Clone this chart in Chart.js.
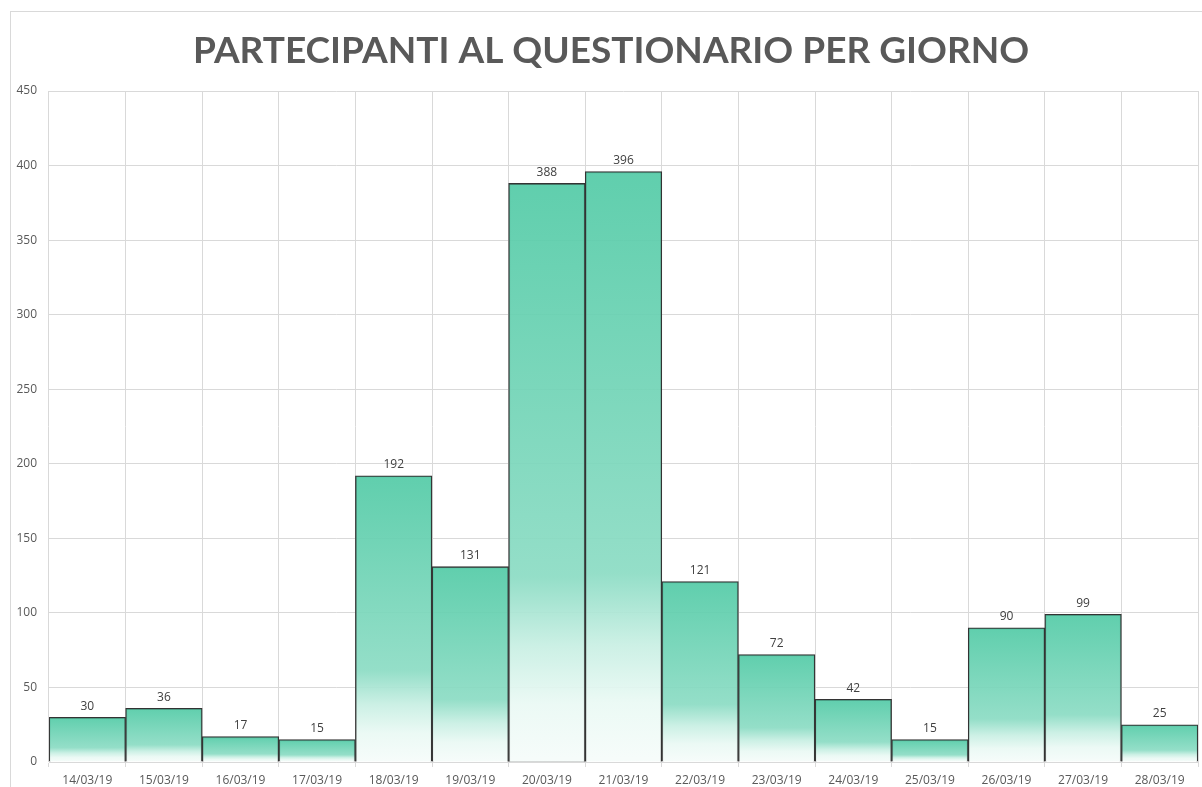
<!DOCTYPE html>
<html lang="it">
<head>
    <meta charset="UTF-8">
    <title>Partecipanti al questionario per giorno</title>
    <script src="https://cdn.jsdelivr.net/npm/chart.js"></script>
    <style>
        html, body {
            margin: 0;
            padding: 0;
            background: #fff;
            overflow: hidden;
        }
        .frame {
            position: absolute;
            left: 10px;
            top: 11px;
            width: 1300px;
            height: 900px;
            border: 1px solid #d9d9d9;
        }
        #chart {
            position: absolute;
            left: 0;
            top: 0;
        }
    </style>
</head>
<body>
    <div class="frame"></div>
    <canvas id="chart" width="1202" height="787"></canvas>

    <script>
        // Dati
        const giorni = ['14/03/19', '15/03/19', '16/03/19', '17/03/19', '18/03/19', '19/03/19', '20/03/19', '21/03/19',
                        '22/03/19', '23/03/19', '24/03/19', '25/03/19', '26/03/19', '27/03/19', '28/03/19'];
        const partecipanti = [30, 36, 17, 15, 192, 131, 388, 396, 121, 72, 42, 15, 90, 99, 25];
        const titolo = 'PARTECIPANTI AL QUESTIONARIO PER GIORNO';

        const grigio = '#595959';
        const griglia = '#d9d9d9';

        // Sfumatura per ogni barra, dall'alto (verde) verso il basso (bianco)
        function barFill(ctx) {
            const chart = ctx.chart;
            if (!chart.chartArea || ctx.dataIndex === undefined) return 'rgba(84,203,167,0.93)';
            const y = chart.scales.y;
            const top = y.getPixelForValue(ctx.raw);
            const bottom = y.getPixelForValue(0);
            if (!isFinite(top) || bottom - top < 1) return 'rgba(84,203,167,0.93)';
            const g = chart.ctx.createLinearGradient(0, top, 0, bottom);
            g.addColorStop(0, 'rgba(84,203,167,0.93)');
            g.addColorStop(0.68, 'rgba(140,220,196,0.93)');
            g.addColorStop(0.8, 'rgba(200,239,227,0.93)');
            g.addColorStop(0.9, 'rgba(234,249,244,0.93)');
            g.addColorStop(1, 'rgba(246,252,250,0.93)');
            return g;
        }

        const titlePlugin = {
            id: 'titoloCentrato',
            afterDraw(chart) {
                const c = chart.ctx;
                c.save();
                c.font = 'bold 37px Lato';
                c.fillStyle = grigio;
                c.textAlign = 'center';
                c.textBaseline = 'alphabetic';
                c.fillText(titolo, 611, 63);
                c.restore();
            }
        };

        const valuePlugin = {
            id: 'etichetteValori',
            afterDatasetsDraw(chart) {
                const c = chart.ctx;
                const meta = chart.getDatasetMeta(0);
                c.save();
                c.font = '12px "Open Sans"';
                c.fillStyle = '#404040';
                c.textAlign = 'center';
                c.textBaseline = 'bottom';
                meta.data.forEach((bar, i) => {
                    c.fillText(partecipanti[i], bar.x, bar.y - 5);
                });
                c.restore();
            }
        };

        new Chart(document.getElementById('chart'), {
            type: 'bar',
            data: {
                labels: giorni,
                datasets: [{
                    data: partecipanti,
                    backgroundColor: barFill,
                    borderColor: '#333333',
                    borderWidth: 1.3,
                    categoryPercentage: 1.0,
                    barPercentage: 1.0
                }]
            },
            options: {
                responsive: false,
                animation: false,
                layout: {
                    padding: { top: 91, right: 4, bottom: 0, left: 0 }
                },
                plugins: {
                    legend: { display: false },
                    title: { display: false },
                    tooltip: { enabled: false }
                },
                scales: {
                    x: {
                        afterFit: s => { s.height = 25; },
                        grid: {
                            offset: true,
                            color: griglia,
                            tickLength: 5
                        },
                        border: { color: griglia },
                        ticks: {
                            color: grigio,
                            font: { family: 'Open Sans', size: 12, lineHeight: 1.0 },
                            maxRotation: 0,
                            padding: 8
                        }
                    },
                    y: {
                        min: 0,
                        max: 450,
                        afterFit: s => { s.width = 49; },
                        grid: {
                            color: griglia,
                            drawTicks: false
                        },
                        border: { display: false },
                        ticks: {
                            stepSize: 50,
                            color: grigio,
                            font: { family: 'Open Sans', size: 12 },
                            padding: 12
                        }
                    }
                }
            },
            plugins: [titlePlugin, valuePlugin]
        });
    </script>
</body>
</html>
